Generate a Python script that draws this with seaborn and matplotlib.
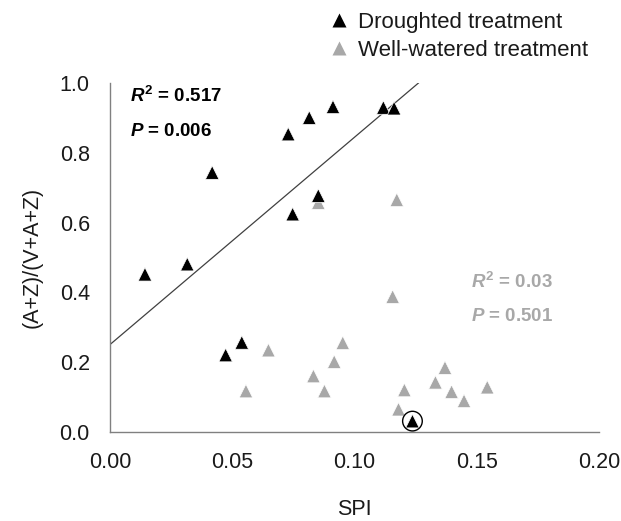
import numpy as np
import pandas as pd
import matplotlib
matplotlib.use("Agg")
import matplotlib.pyplot as plt
import seaborn as sns

# ---- data ----
drought_spi = [0.0143, 0.0316, 0.0418, 0.0473, 0.0539, 0.0729, 0.0747,
               0.0815, 0.0852, 0.0912, 0.1118, 0.1162, 0.1237]
drought_ratio = [0.452, 0.481, 0.743, 0.221, 0.257, 0.853, 0.624,
                 0.900, 0.677, 0.931, 0.929, 0.927, 0.032]
well_spi = [0.0556, 0.0648, 0.0832, 0.0852, 0.0877, 0.0917, 0.0952, 0.1156,
            0.1173, 0.1180, 0.1204, 0.1331, 0.1370, 0.1397, 0.1448, 0.1543]
well_ratio = [0.118, 0.235, 0.161, 0.657, 0.118, 0.202, 0.256, 0.388,
              0.665, 0.066, 0.121, 0.143, 0.185, 0.116, 0.090, 0.129]
highlight_index = 12          # circled droughted point
fit_intercept = 0.251         # droughted regression line
fit_slope = 5.93
labels = ["Droughted treatment", "Well-watered treatment"]
x_ticks = [0.00, 0.05, 0.10, 0.15, 0.20]
y_ticks = [0.0, 0.2, 0.4, 0.6, 0.8, 1.0]

sns.set_style("white")
plt.rcParams["font.family"] = ["Liberation Sans", "DejaVu Sans"]
plt.rcParams["mathtext.fontset"] = "custom"
plt.rcParams["mathtext.it"] = "Liberation Sans:italic:bold"
plt.rcParams["mathtext.rm"] = "Liberation Sans:bold"
plt.rcParams["mathtext.bf"] = "Liberation Sans:bold"

BLACK = "#000000"
GREY = "#a8a8a8"
AXC = "#808080"

df = pd.DataFrame({
    "SPI": well_spi + drought_spi,
    "ratio": well_ratio + drought_ratio,
    "group": [labels[1]] * len(well_spi) + [labels[0]] * len(drought_spi),
})

fig = plt.figure(figsize=(6.21, 5.21), dpi=100)
ax = fig.add_axes([110 / 621, 1 - 432.3 / 521, 489 / 621, 349.6 / 521])

sns.scatterplot(data=df, x="SPI", y="ratio", hue="group", marker="^",
                hue_order=labels, palette={labels[0]: BLACK, labels[1]: GREY},
                s=95, edgecolor="white", linewidth=0.5, ax=ax, legend=True,
                zorder=3)

# circle around highlighted point
ax.scatter([drought_spi[highlight_index]], [drought_ratio[highlight_index]],
           s=200, marker="o", facecolors="none", edgecolors="black",
           linewidths=1.0, zorder=4)

# regression line for droughted treatment
x_end = (1.0 - fit_intercept) / fit_slope
lx = np.array([0.0, x_end])
ax.plot(lx, fit_intercept + fit_slope * lx, color="#404040", lw=0.9, zorder=2)

ax.set_xlim(0, 0.2)
ax.set_ylim(0, 1.0)
ax.set_xticks(x_ticks)
ax.set_yticks(y_ticks)
ax.set_xticklabels([f"{t:.2f}" for t in x_ticks])
ax.set_yticklabels([f"{t:.1f}" for t in y_ticks])
ax.tick_params(axis="both", which="both", direction="out", length=5,
               width=1.0, color=AXC, labelsize=15.5, labelcolor="#1a1a1a")
ax.tick_params(axis="x", pad=9)
ax.tick_params(axis="y", pad=9.5)
for side in ["top", "right"]:
    ax.spines[side].set_visible(False)
for side in ["left", "bottom"]:
    ax.spines[side].set_color(AXC)
    ax.spines[side].set_linewidth(1.0)
ax.set_xlabel("")
ax.set_ylabel("")
for coll in ax.collections:
    coll.set_clip_on(False)

fig.text(354 / 621, 1 - 515 / 521, "SPI", ha="center", va="baseline",
         fontsize=15.5, color="#1a1a1a")
fig.text(32 / 621, 1 - 257 / 521, "(A+Z)/(V+A+Z)", ha="center", va="center",
         rotation=90, fontsize=15.5, color="#1a1a1a")

# statistics annotations
ax.text(0.0083, 0.962, r"$R^2$ = 0.517", fontsize=13.5, fontweight="bold",
        color=BLACK, ha="left", va="center")
ax.text(0.0083, 0.860, r"$P$ = 0.006", fontsize=13.5, fontweight="bold",
        color=BLACK, ha="left", va="center")
ax.text(0.1476, 0.430, r"$R^2$ = 0.03", fontsize=13.5, fontweight="bold",
        color=GREY, ha="left", va="center")
ax.text(0.1476, 0.332, r"$P$ = 0.501", fontsize=13.5, fontweight="bold",
        color=GREY, ha="left", va="center")

handles, labs = ax.get_legend_handles_labels()
ax.get_legend().remove()
for h in handles:
    try:
        h.set_markeredgecolor("none")
    except Exception:
        pass
leg = fig.legend(handles, labs, loc="upper left",
                 bbox_to_anchor=(330 / 621, 1 - 12 / 521), frameon=False,
                 fontsize=16, handlelength=0.8, handletextpad=0.45,
                 labelspacing=0.3, borderpad=0, borderaxespad=0,
                 markerscale=1.0)
for t in leg.get_texts():
    t.set_color("#1a1a1a")

fig.savefig("out.png", dpi=100)
